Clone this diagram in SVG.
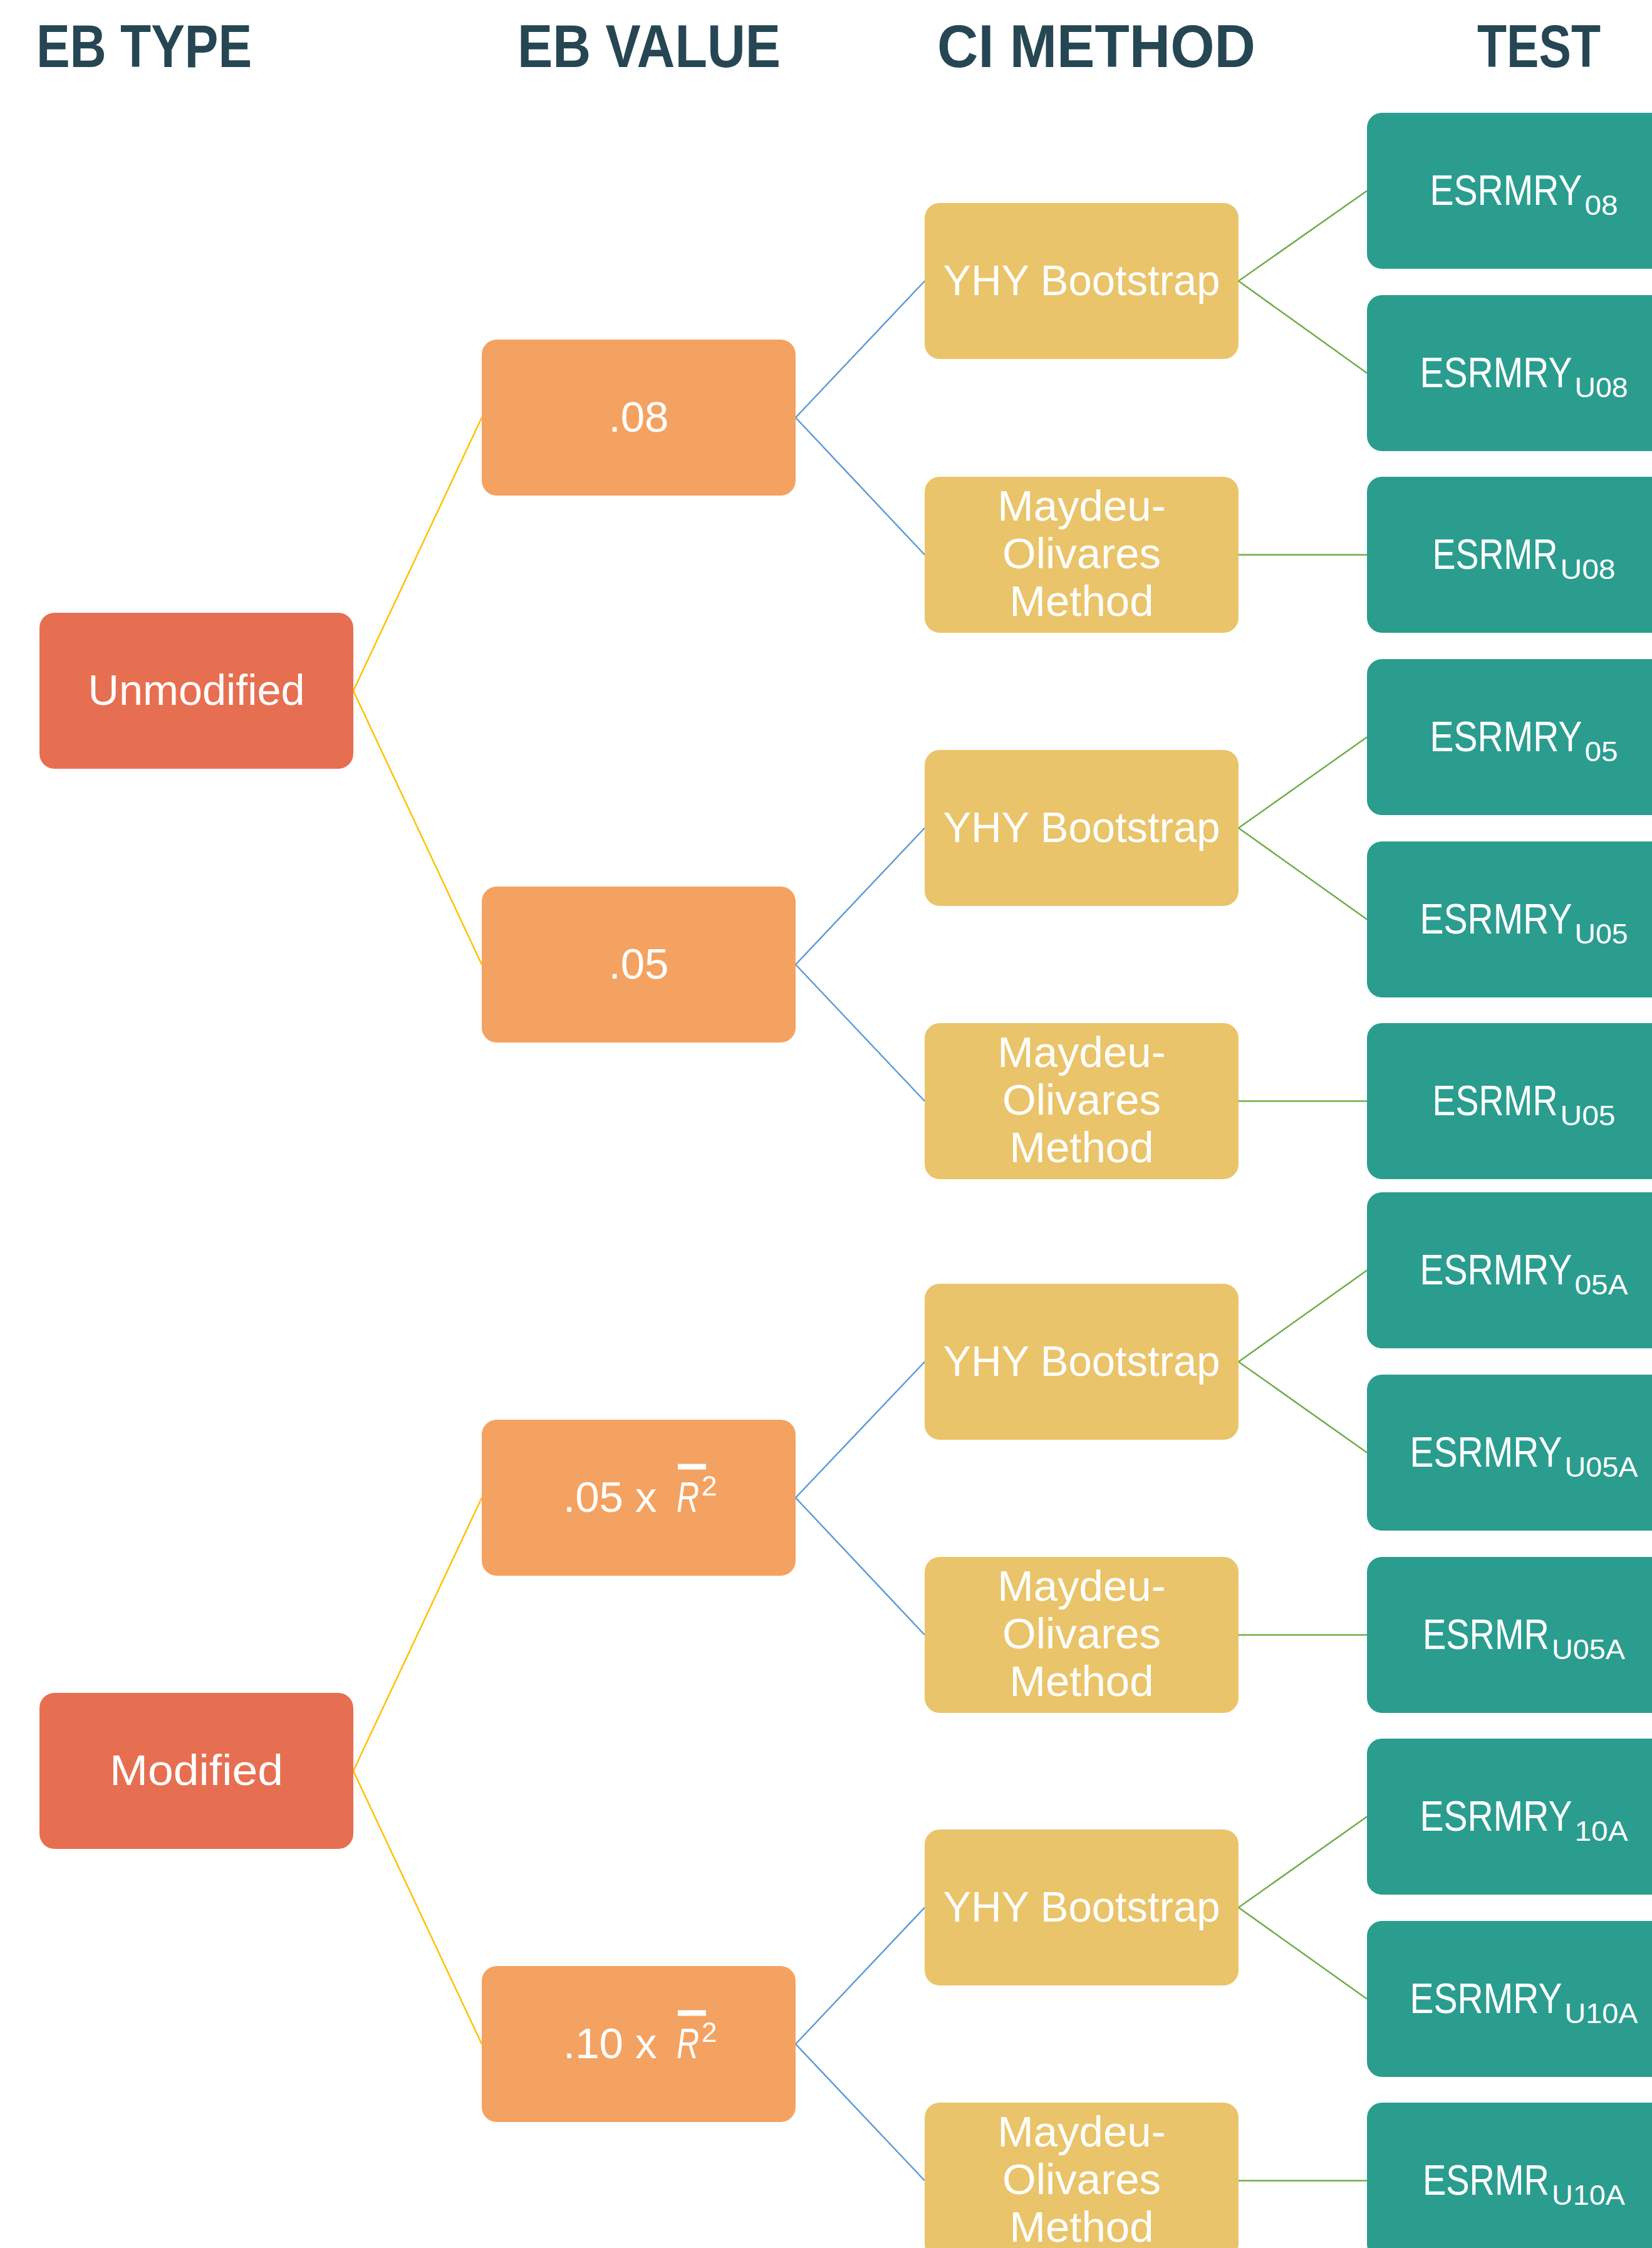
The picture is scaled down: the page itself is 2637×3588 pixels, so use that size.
<svg xmlns="http://www.w3.org/2000/svg" width="2637" height="3588" viewBox="0 0 2637 3588">
<style>
  .hdr{font-family:"Liberation Sans",Arial,sans-serif;font-weight:bold;font-size:96px;fill:#264653}
  .lbl{font-family:"Liberation Sans",Arial,sans-serif;font-size:69px;fill:#ffffff}
  .mid{text-anchor:middle}
  .sub{font-size:44px}
  .t1{fill:#E76F51}
  .t2{fill:#F4A261}
  .t3{fill:#E9C46A}
  .t4{fill:#2A9D8F}
  .c1{stroke:#FFC000;stroke-width:2.5;fill:none}
  .c2{stroke:#5B9BD5;stroke-width:2.5;fill:none}
  .c3{stroke:#70AD47;stroke-width:2.5;fill:none}
</style>
<rect width="2637" height="3588" fill="#ffffff"/>

<g id="headers">
  <text class="hdr" x="58" y="107" textLength="344" lengthAdjust="spacingAndGlyphs">EB TYPE</text>
  <text class="hdr" x="826" y="107" textLength="420" lengthAdjust="spacingAndGlyphs">EB VALUE</text>
  <text class="hdr" x="1496" y="107" textLength="508" lengthAdjust="spacingAndGlyphs">CI METHOD</text>
  <text class="hdr" x="2358" y="107" textLength="197" lengthAdjust="spacingAndGlyphs">TEST</text>
</g>

<g id="connectors">
  <line class="c1" x1="564" y1="1102.5" x2="769" y2="666.5"/>
  <line class="c1" x1="564" y1="1102.5" x2="769" y2="1539.5"/>
  <line class="c1" x1="564" y1="2826.5" x2="769" y2="2390.5"/>
  <line class="c1" x1="564" y1="2826.5" x2="769" y2="3262.5"/>

  <line class="c2" x1="1270" y1="666.5" x2="1476" y2="448.5"/>
  <line class="c2" x1="1270" y1="666.5" x2="1476" y2="885.5"/>
  <line class="c2" x1="1270" y1="1539.5" x2="1476" y2="1321.5"/>
  <line class="c2" x1="1270" y1="1539.5" x2="1476" y2="1757.5"/>
  <line class="c2" x1="1270" y1="2390.5" x2="1476" y2="2173.5"/>
  <line class="c2" x1="1270" y1="2390.5" x2="1476" y2="2609.5"/>
  <line class="c2" x1="1270" y1="3262.5" x2="1476" y2="3044.5"/>
  <line class="c2" x1="1270" y1="3262.5" x2="1476" y2="3480.5"/>

  <line class="c3" x1="1977" y1="448.5" x2="2182" y2="304.5"/>
  <line class="c3" x1="1977" y1="448.5" x2="2182" y2="595.5"/>
  <line class="c3" x1="1977" y1="885.5" x2="2182" y2="885.5"/>
  <line class="c3" x1="1977" y1="1321.5" x2="2182" y2="1176.5"/>
  <line class="c3" x1="1977" y1="1321.5" x2="2182" y2="1467.5"/>
  <line class="c3" x1="1977" y1="1757.5" x2="2182" y2="1757.5"/>
  <line class="c3" x1="1977" y1="2173.5" x2="2182" y2="2027.5"/>
  <line class="c3" x1="1977" y1="2173.5" x2="2182" y2="2318.5"/>
  <line class="c3" x1="1977" y1="2609.5" x2="2182" y2="2609.5"/>
  <line class="c3" x1="1977" y1="3044.5" x2="2182" y2="2899.5"/>
  <line class="c3" x1="1977" y1="3044.5" x2="2182" y2="3190.5"/>
  <line class="c3" x1="1977" y1="3480.5" x2="2182" y2="3480.5"/>
</g>

<!-- EB TYPE -->
<g id="node-unmodified">
  <rect class="t1" x="63" y="978" width="501" height="249" rx="24"/>
  <text class="lbl mid" x="313.5" y="1124.5" textLength="346" lengthAdjust="spacingAndGlyphs">Unmodified</text>
</g>
<g id="node-modified">
  <rect class="t1" x="63" y="2702" width="501" height="249" rx="24"/>
  <text class="lbl mid" x="313.5" y="2848.5" textLength="277" lengthAdjust="spacingAndGlyphs">Modified</text>
</g>

<!-- EB VALUE -->
<g id="node-v08">
  <rect class="t2" x="769" y="542" width="501" height="249" rx="24"/>
  <text class="lbl mid" x="1019.5" y="688.5">.08</text>
</g>
<g id="node-v05">
  <rect class="t2" x="769" y="1415" width="501" height="249" rx="24"/>
  <text class="lbl mid" x="1019.5" y="1561.5">.05</text>
</g>
<g id="node-v05r2">
  <rect class="t2" x="769" y="2266" width="501" height="249" rx="24"/>
  <text class="lbl" x="899" y="2412.5">.05 x <tspan x="1080" font-style="italic" textLength="36" lengthAdjust="spacingAndGlyphs">R</tspan><tspan class="sub" x="1120" y="2386.5">2</tspan></text>
  <rect x="1082" y="2336.5" width="45" height="9" fill="#ffffff"/>
</g>
<g id="node-v10r2">
  <rect class="t2" x="769" y="3138" width="501" height="249" rx="24"/>
  <text class="lbl" x="899" y="3284.5">.10 x <tspan x="1080" font-style="italic" textLength="36" lengthAdjust="spacingAndGlyphs">R</tspan><tspan class="sub" x="1120" y="3258.5">2</tspan></text>
  <rect x="1082" y="3208.5" width="45" height="9" fill="#ffffff"/>
</g>

<!-- CI METHOD -->
<g id="node-yhy1">
  <rect class="t3" x="1476" y="324" width="501" height="249" rx="24"/>
  <text class="lbl mid" x="1726.5" y="470.5" textLength="442" lengthAdjust="spacingAndGlyphs">YHY Bootstrap</text>
</g>
<g id="node-mo1">
  <rect class="t3" x="1476" y="761" width="501" height="249" rx="24"/>
  <text class="lbl mid" x="1726.5"><tspan x="1726.5" y="830.5">Maydeu-</tspan><tspan x="1726.5" y="906.5">Olivares</tspan><tspan x="1726.5" y="982.5">Method</tspan></text>
</g>
<g id="node-yhy2">
  <rect class="t3" x="1476" y="1197" width="501" height="249" rx="24"/>
  <text class="lbl mid" x="1726.5" y="1343.5" textLength="442" lengthAdjust="spacingAndGlyphs">YHY Bootstrap</text>
</g>
<g id="node-mo2">
  <rect class="t3" x="1476" y="1633" width="501" height="249" rx="24"/>
  <text class="lbl mid" x="1726.5"><tspan x="1726.5" y="1702.5">Maydeu-</tspan><tspan x="1726.5" y="1778.5">Olivares</tspan><tspan x="1726.5" y="1854.5">Method</tspan></text>
</g>
<g id="node-yhy3">
  <rect class="t3" x="1476" y="2049" width="501" height="249" rx="24"/>
  <text class="lbl mid" x="1726.5" y="2195.5" textLength="442" lengthAdjust="spacingAndGlyphs">YHY Bootstrap</text>
</g>
<g id="node-mo3">
  <rect class="t3" x="1476" y="2485" width="501" height="249" rx="24"/>
  <text class="lbl mid" x="1726.5"><tspan x="1726.5" y="2554.5">Maydeu-</tspan><tspan x="1726.5" y="2630.5">Olivares</tspan><tspan x="1726.5" y="2706.5">Method</tspan></text>
</g>
<g id="node-yhy4">
  <rect class="t3" x="1476" y="2920" width="501" height="249" rx="24"/>
  <text class="lbl mid" x="1726.5" y="3066.5" textLength="442" lengthAdjust="spacingAndGlyphs">YHY Bootstrap</text>
</g>
<g id="node-mo4">
  <rect class="t3" x="1476" y="3356" width="501" height="249" rx="24"/>
  <text class="lbl mid" x="1726.5"><tspan x="1726.5" y="3425.5">Maydeu-</tspan><tspan x="1726.5" y="3501.5">Olivares</tspan><tspan x="1726.5" y="3577.5">Method</tspan></text>
</g>

<!-- TEST -->
<g id="node-t1">
  <rect class="t4" x="2182" y="180" width="501" height="249" rx="24"/>
  <text class="lbl"><tspan x="2282.5" y="326.5" textLength="243" lengthAdjust="spacingAndGlyphs">ESRMRY</tspan><tspan class="sub" x="2529.5" y="342.5" textLength="53" lengthAdjust="spacingAndGlyphs">08</tspan></text>
</g>
<g id="node-t2">
  <rect class="t4" x="2182" y="471" width="501" height="249" rx="24"/>
  <text class="lbl"><tspan x="2266.5" y="617.5" textLength="243" lengthAdjust="spacingAndGlyphs">ESRMRY</tspan><tspan class="sub" x="2513.5" y="633.5" textLength="85" lengthAdjust="spacingAndGlyphs">U08</tspan></text>
</g>
<g id="node-t3">
  <rect class="t4" x="2182" y="761" width="501" height="249" rx="24"/>
  <text class="lbl"><tspan x="2286.5" y="907.5" textLength="200" lengthAdjust="spacingAndGlyphs">ESRMR</tspan><tspan class="sub" x="2490.5" y="923.5" textLength="88" lengthAdjust="spacingAndGlyphs">U08</tspan></text>
</g>
<g id="node-t4">
  <rect class="t4" x="2182" y="1052" width="501" height="249" rx="24"/>
  <text class="lbl"><tspan x="2282.5" y="1198.5" textLength="243" lengthAdjust="spacingAndGlyphs">ESRMRY</tspan><tspan class="sub" x="2529.5" y="1214.5" textLength="53" lengthAdjust="spacingAndGlyphs">05</tspan></text>
</g>
<g id="node-t5">
  <rect class="t4" x="2182" y="1343" width="501" height="249" rx="24"/>
  <text class="lbl"><tspan x="2266.5" y="1489.5" textLength="243" lengthAdjust="spacingAndGlyphs">ESRMRY</tspan><tspan class="sub" x="2513.5" y="1505.5" textLength="85" lengthAdjust="spacingAndGlyphs">U05</tspan></text>
</g>
<g id="node-t6">
  <rect class="t4" x="2182" y="1633" width="501" height="249" rx="24"/>
  <text class="lbl"><tspan x="2286.5" y="1779.5" textLength="200" lengthAdjust="spacingAndGlyphs">ESRMR</tspan><tspan class="sub" x="2490.5" y="1795.5" textLength="88" lengthAdjust="spacingAndGlyphs">U05</tspan></text>
</g>
<g id="node-t7">
  <rect class="t4" x="2182" y="1903" width="501" height="249" rx="24"/>
  <text class="lbl"><tspan x="2266.5" y="2049.5" textLength="243" lengthAdjust="spacingAndGlyphs">ESRMRY</tspan><tspan class="sub" x="2513.5" y="2065.5" textLength="85" lengthAdjust="spacingAndGlyphs">05A</tspan></text>
</g>
<g id="node-t8">
  <rect class="t4" x="2182" y="2194" width="501" height="249" rx="24"/>
  <text class="lbl"><tspan x="2250.5" y="2340.5" textLength="243" lengthAdjust="spacingAndGlyphs">ESRMRY</tspan><tspan class="sub" x="2497.5" y="2356.5" textLength="117" lengthAdjust="spacingAndGlyphs">U05A</tspan></text>
</g>
<g id="node-t9">
  <rect class="t4" x="2182" y="2485" width="501" height="249" rx="24"/>
  <text class="lbl"><tspan x="2271" y="2631.5" textLength="202" lengthAdjust="spacingAndGlyphs">ESRMR</tspan><tspan class="sub" x="2477" y="2647.5" textLength="117" lengthAdjust="spacingAndGlyphs">U05A</tspan></text>
</g>
<g id="node-t10">
  <rect class="t4" x="2182" y="2775" width="501" height="249" rx="24"/>
  <text class="lbl"><tspan x="2266.5" y="2921.5" textLength="243" lengthAdjust="spacingAndGlyphs">ESRMRY</tspan><tspan class="sub" x="2513.5" y="2937.5" textLength="85" lengthAdjust="spacingAndGlyphs">10A</tspan></text>
</g>
<g id="node-t11">
  <rect class="t4" x="2182" y="3066" width="501" height="249" rx="24"/>
  <text class="lbl"><tspan x="2250.5" y="3212.5" textLength="243" lengthAdjust="spacingAndGlyphs">ESRMRY</tspan><tspan class="sub" x="2497.5" y="3228.5" textLength="117" lengthAdjust="spacingAndGlyphs">U10A</tspan></text>
</g>
<g id="node-t12">
  <rect class="t4" x="2182" y="3356" width="501" height="249" rx="24"/>
  <text class="lbl"><tspan x="2271" y="3502.5" textLength="202" lengthAdjust="spacingAndGlyphs">ESRMR</tspan><tspan class="sub" x="2477" y="3518.5" textLength="117" lengthAdjust="spacingAndGlyphs">U10A</tspan></text>
</g>
</svg>
